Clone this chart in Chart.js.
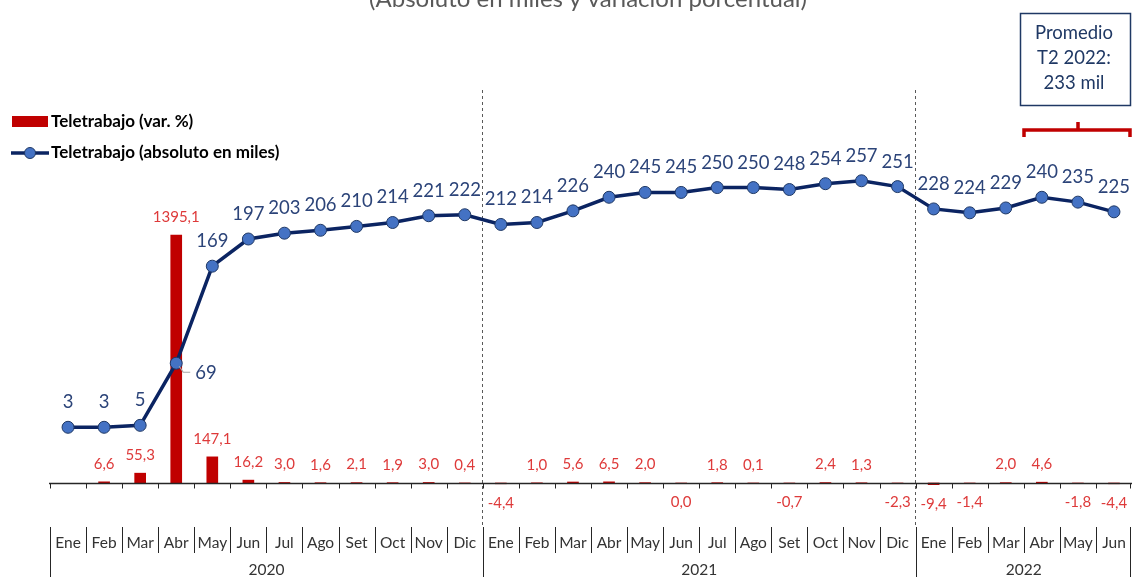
<!DOCTYPE html>
<html>
<head>
<meta charset="utf-8">
<script src="https://cdn.jsdelivr.net/npm/chart.js@4.4.1/dist/chart.umd.min.js"></script>
<style>
  html, body { margin: 0; padding: 0; background: #fff; }
  #wrap { width: 1132px; height: 577px; }
</style>
</head>
<body>
<div id="wrap"><canvas id="chart" width="1132" height="577"></canvas></div>
<script>
// Data
const months = [
  "Ene","Feb","Mar","Abr","May","Jun","Jul","Ago","Set","Oct","Nov","Dic",
  "Ene","Feb","Mar","Abr","May","Jun","Jul","Ago","Set","Oct","Nov","Dic",
  "Ene","Feb","Mar","Abr","May","Jun",
];
const years = ["2020", "2021", "2022"];
const yearSpans = [12, 12, 6];

// Teletrabajo (absoluto en miles)
const absMiles = [
  3, 3, 5, 69, 169, 197, 203, 206, 210, 214, 221, 222,
  212, 214, 226, 240, 245, 245, 250, 250, 248, 254, 257, 251,
  228, 224, 229, 240, 235, 225,
];
// Teletrabajo (var. %)
const varPct = [
  null, 6.6, 55.3, 1395.1, 147.1, 16.2, 3.0, 1.6, 2.1, 1.9, 3.0, 0.4,
  -4.4, 1.0, 5.6, 6.5, 2.0, 0.0, 1.8, 0.1, -0.7, 2.4, 1.3, -2.3,
  -9.4, -1.4, 2.0, 4.6, -1.8, -4.4,
];

const titleText = "(Absoluto en miles y variación porcentual)";
const legendBar = "Teletrabajo (var. %)";
const legendLine = "Teletrabajo (absoluto en miles)";
const noteLines = ["Promedio", "T2 2022:", "233 mil"];

const COLORS = {
  bar: "#C00000",
  barLabel: "#DE3A3A",
  line: "#0B2462",
  point: "#4472C4",
  pointBorder: "#1F3864",
  lineLabel: "#2C4479",
  axis: "#262626",
  tick: "#333333",
  dash: "#595959",
};
const FONT = "Lato, 'Open Sans', sans-serif";

const fmtPct = (v) => v.toFixed(1).replace(".", ",");

// Everything the library does not draw itself
const decorations = {
  id: "decorations",
  beforeDatasetsDraw(chart) {
    const { ctx, scales: { x } } = chart;
    const w = (x.getPixelForValue(1) - x.getPixelForValue(0));
    ctx.save();
    ctx.strokeStyle = COLORS.dash;
    ctx.lineWidth = 1;
    ctx.setLineDash([3, 3]);
    [12, 24].forEach((j) => {
      const px = Math.round(x.getPixelForValue(j) - w / 2) - 0.5;
      ctx.beginPath();
      ctx.moveTo(px, 90);
      ctx.lineTo(px, 526);
      ctx.stroke();
    });
    ctx.restore();
  },
  afterDraw(chart) {
    const { ctx, scales: { x, yBar, yLine } } = chart;
    const w = (x.getPixelForValue(1) - x.getPixelForValue(0));
    const left = x.getPixelForValue(0) - w / 2;
    const zeroY = Math.round(yBar.getPixelForValue(0)) + 0.5;
    ctx.save();

    // title (cut at top in the reference)
    ctx.fillStyle = "#595959";
    ctx.font = `24px ${FONT}`;
    ctx.textAlign = "center";
    ctx.textBaseline = "alphabetic";
    ctx.fillText(titleText, 588, 7);

    // horizontal axis at zero with tick marks
    ctx.strokeStyle = COLORS.axis;
    ctx.lineWidth = 1.3;
    ctx.beginPath();
    ctx.moveTo(left - 1, zeroY);
    ctx.lineTo(1132, zeroY);
    ctx.stroke();
    ctx.lineWidth = 1;
    for (let j = 0; j <= months.length; j++) {
      const px = Math.min(Math.round(left + j * w) + 0.5, 1130.5);
      ctx.beginPath();
      ctx.moveTo(px, zeroY);
      ctx.lineTo(px, zeroY + 5);
      ctx.stroke();
    }

    // two-level category labels
    const yearStarts = [0];
    yearSpans.forEach((n, k) => yearStarts.push(yearStarts[k] + n));
    ctx.strokeStyle = COLORS.axis;
    for (let j = 0; j <= months.length; j++) {
      const px = Math.min(Math.round(left + j * w) + 0.5, 1130.5);
      const isYear = yearStarts.includes(j);
      ctx.beginPath();
      ctx.moveTo(px, 527);
      ctx.lineTo(px, isYear ? 577 : 553);
      ctx.stroke();
    }
    ctx.fillStyle = COLORS.tick;
    ctx.font = `15.5px ${FONT}`;
    ctx.textBaseline = "middle";
    months.forEach((m, i) => ctx.fillText(m, x.getPixelForValue(i), 543));
    years.forEach((yr, k) => {
      const mid = (yearStarts[k] + yearStarts[k + 1] - 1) / 2;
      ctx.fillText(yr, x.getPixelForValue(mid), 570);
    });

    // bar labels
    ctx.fillStyle = COLORS.barLabel;
    ctx.font = `15px ${FONT}`;
    varPct.forEach((v, i) => {
      if (v === null) return;
      const py = yBar.getPixelForValue(v);
      ctx.fillText(fmtPct(v), x.getPixelForValue(i), v > 0 ? py - 18 : py + 19);
    });

    // line labels
    ctx.fillStyle = COLORS.lineLabel;
    ctx.font = `18.5px ${FONT}`;
    absMiles.forEach((v, i) => {
      const px = x.getPixelForValue(i);
      const py = yLine.getPixelForValue(v);
      if (i === 3) {
        // label pulled to the right with a leader line
        ctx.strokeStyle = "#A6A6A6";
        ctx.lineWidth = 1.2;
        ctx.beginPath();
        ctx.moveTo(px + 3, py + 3);
        ctx.lineTo(px + 7, py + 9);
        ctx.lineTo(px + 14, py + 9);
        ctx.stroke();
        ctx.textAlign = "left";
        ctx.fillText(String(v), px + 19, py + 10);
        ctx.textAlign = "center";
        return;
      }
      ctx.fillText(String(v), px, py - 25);
    });

    // legend
    ctx.textAlign = "left";
    ctx.fillStyle = COLORS.bar;
    ctx.fillRect(12, 116, 36, 11);
    ctx.strokeStyle = COLORS.line;
    ctx.lineWidth = 3.5;
    ctx.beginPath();
    ctx.moveTo(11, 153);
    ctx.lineTo(49, 153);
    ctx.stroke();
    ctx.beginPath();
    ctx.arc(30, 153, 5.5, 0, Math.PI * 2);
    ctx.fillStyle = COLORS.point;
    ctx.fill();
    ctx.lineWidth = 1;
    ctx.strokeStyle = COLORS.pointBorder;
    ctx.stroke();
    ctx.fillStyle = "#000";
    ctx.font = `bold 17px ${FONT}`;
    ctx.fillText(legendBar, 51, 122);
    ctx.fillText(legendLine, 51, 153);

    // note box
    ctx.strokeStyle = COLORS.pointBorder;
    ctx.lineWidth = 1.5;
    ctx.strokeRect(1020.5, 13.5, 110, 92);
    ctx.fillStyle = COLORS.pointBorder;
    ctx.font = `18.5px ${FONT}`;
    ctx.textAlign = "center";
    [33, 58, 83].forEach((ty, k) => ctx.fillText(noteLines[k], 1074, ty));

    // bracket over T2 2022
    ctx.strokeStyle = COLORS.bar;
    ctx.lineWidth = 3.5;
    ctx.lineJoin = "miter";
    ctx.beginPath();
    ctx.moveTo(1024, 137);
    ctx.lineTo(1024, 130);
    ctx.lineTo(1130, 130);
    ctx.lineTo(1130, 137);
    ctx.moveTo(1078, 130);
    ctx.lineTo(1078, 122);
    ctx.stroke();

    ctx.restore();
  },
};

new Chart(document.getElementById("chart"), {
  type: "bar",
  data: {
    labels: months,
    datasets: [
      {
        type: "line",
        label: legendLine,
        data: absMiles,
        yAxisID: "yLine",
        order: 0,
        borderColor: COLORS.line,
        borderWidth: 3.5,
        pointRadius: 6,
        pointBackgroundColor: COLORS.point,
        pointBorderColor: COLORS.pointBorder,
        pointBorderWidth: 1,
        tension: 0,
        fill: false,
        clip: false,
      },
      {
        type: "bar",
        label: legendBar,
        data: varPct,
        yAxisID: "yBar",
        order: 1,
        backgroundColor: COLORS.bar,
        barThickness: 11,
      },
    ],
  },
  options: {
    responsive: false,
    devicePixelRatio: 1,
    animation: false,
    layout: { autoPadding: false, padding: { left: 50, right: 0, top: 40, bottom: 57 } },
    scales: {
      x: { display: false, offset: true, grid: { display: false } },
      yBar: { display: false, min: -208.13, max: 2491.97 },
      yLine: { display: false, min: -92.53, max: 402.06 },
    },
    plugins: {
      legend: { display: false },
      tooltip: { enabled: false },
    },
  },
  plugins: [decorations],
});
</script>
</body>
</html>
